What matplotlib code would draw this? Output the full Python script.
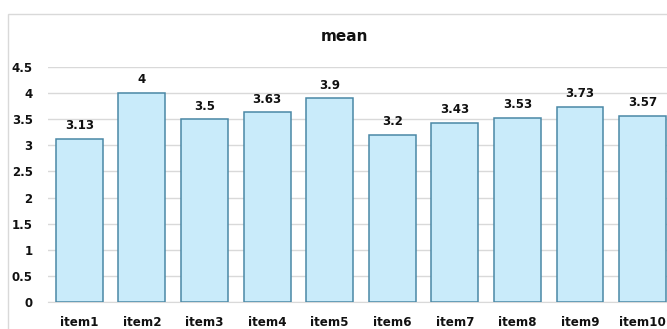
import matplotlib.pyplot as plt
from matplotlib.patches import Rectangle

items = ['item1', 'item2', 'item3', 'item4', 'item5', 'item6', 'item7', 'item8', 'item9', 'item10']
means = [3.13, 4, 3.5, 3.63, 3.9, 3.2, 3.43, 3.53, 3.73, 3.57]
yticks = [0, 0.5, 1, 1.5, 2, 2.5, 3, 3.5, 4, 4.5]

W, H = 667, 329
plt.rcParams['font.family'] = ['DejaVu Sans']
fig = plt.figure(figsize=(W / 100, H / 100), dpi=100)

# outer chart border (cropped on the right/bottom)
fig.patches.append(Rectangle((8 / W, -0.1), 1.2, (H - 14) / H + 0.1, transform=fig.transFigure,
                             fill=False, edgecolor='#d9d9d9', linewidth=1))

ax = fig.add_axes([48 / W, 27 / H, (W - 48) / W, (302 - 67) / H])
x = list(range(len(items)))
ax.bar(x, means, width=0.75, color='#c9ebfa', edgecolor='#4a88a6', linewidth=1.1, zorder=3)

for xi, v in zip(x, means):
    ax.annotate(f'{v:g}', (xi, v), xytext=(0, 7), textcoords='offset points', ha='center',
                va='baseline', fontsize=8.5, fontweight='bold', color='#111111')

ax.set_xlim(-0.5, 9.39)
ax.set_ylim(0, 4.5)
ax.set_yticks(yticks)
ax.set_yticklabels([f'{t:g}' for t in yticks])
ax.set_xticks(x)
ax.set_xticklabels(items)
ax.grid(axis='y', color='#d9d9d9', linewidth=1, zorder=0)
for s in ['left', 'right', 'top']:
    ax.spines[s].set_visible(False)
ax.spines['bottom'].set_color('#d9d9d9')
ax.tick_params(axis='both', length=0, colors='#111111')
ax.tick_params(axis='y', pad=11, labelsize=8.5)
ax.tick_params(axis='x', pad=10, labelsize=8.6)
for lab in ax.get_xticklabels() + ax.get_yticklabels():
    lab.set_fontweight('bold')

fig.text(344 / W, 1 - 41 / H, 'mean', ha='center', va='baseline', fontsize=11, fontweight='bold',
         color='#111111')

fig.savefig('out.png', dpi=100)
